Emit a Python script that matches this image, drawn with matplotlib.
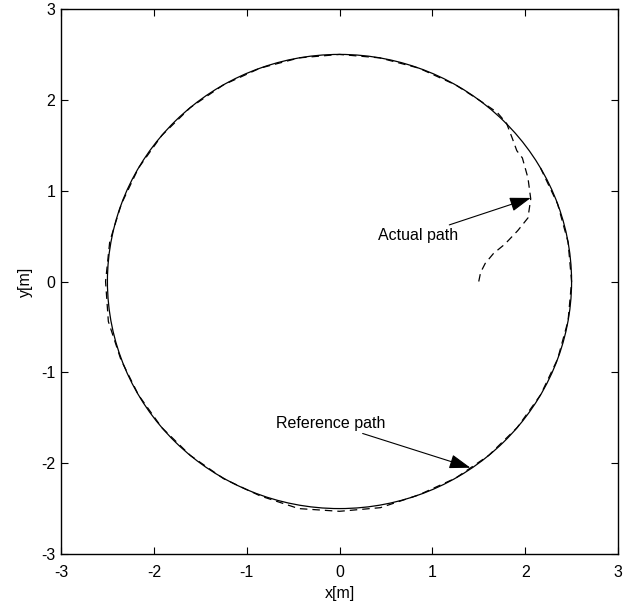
import matplotlib
matplotlib.use("Agg")
import matplotlib.pyplot as plt
from matplotlib.patches import Circle

plt.rcParams["font.family"] = ["Liberation Sans", "DejaVu Sans"]
plt.rcParams["font.size"] = 11.5
plt.rcParams["axes.unicode_minus"] = False

# reference path: circle
ref_center = (0.0, 0.0)
ref_radius = 2.5

# actual path
actual_x = [1.50, 1.52, 1.57, 1.66, 1.78, 1.92, 2.03, 2.06, 2.03, 1.97, 1.91, 1.86, 1.80,
            1.70, 1.50, 1.25, 0.855, 0.434, 0.0, -0.434, -0.855, -1.25, -1.607, -1.915,
            -2.165, -2.349, -2.475, -2.52, -2.49, -2.355, -2.165, -1.915, -1.607, -1.25,
            -0.855, -0.44, 0.0, 0.44, 0.855, 1.25, 1.607, 1.915, 2.165, 2.349, 2.462, 2.5,
            2.462, 2.349, 2.165]
actual_y = [0.0, 0.10, 0.20, 0.31, 0.41, 0.56, 0.70, 0.91, 1.14, 1.36, 1.44, 1.58, 1.74,
            1.86, 2.00, 2.165, 2.349, 2.462, 2.5, 2.462, 2.349, 2.165, 1.915, 1.607,
            1.25, 0.855, 0.44, 0.0, -0.44, -0.86, -1.25, -1.607, -1.915, -2.17,
            -2.36, -2.50, -2.53, -2.49, -2.349, -2.165, -1.915, -1.607, -1.25, -0.855,
            -0.434, 0.0, 0.434, 0.855, 1.25]

ticks = [-3, -2, -1, 0, 1, 2, 3]

fig = plt.figure(figsize=(6.33, 6.11), dpi=100)
ax = fig.add_axes([61 / 633, 1 - 554 / 611, 557 / 633, 545 / 611])

ax.add_patch(Circle(ref_center, ref_radius, fill=False, color="k", lw=0.9))
ax.plot(actual_x, actual_y, color="k", lw=0.9, linestyle=(0, (6, 4)))

ax.set_xlim(-3, 3)
ax.set_ylim(-3, 3)
ax.set_xticks(ticks)
ax.set_yticks(ticks)
ax.tick_params(direction="in", length=5, width=0.8, top=True, right=True)
ax.tick_params(axis="x", pad=8)
ax.tick_params(axis="y", pad=4)
for s in ax.spines.values():
    s.set_linewidth(1.0)

ax.set_xlabel("x[m]", labelpad=4)
ax.set_ylabel("y[m]", labelpad=6)

arrow = dict(arrowstyle="-|>,head_length=0.65,head_width=0.22", color="k", lw=0.8,
             shrinkA=0, shrinkB=0, mutation_scale=20)
ax.annotate("Actual path", xy=(2.06, 0.92), xytext=(1.28, 0.51),
            ha="right", va="center", arrowprops=arrow)
ax.annotate("Reference path", xy=(1.41, -2.05), xytext=(0.49, -1.56),
            ha="right", va="center", arrowprops=arrow)

fig.savefig("out.png", dpi=100)
